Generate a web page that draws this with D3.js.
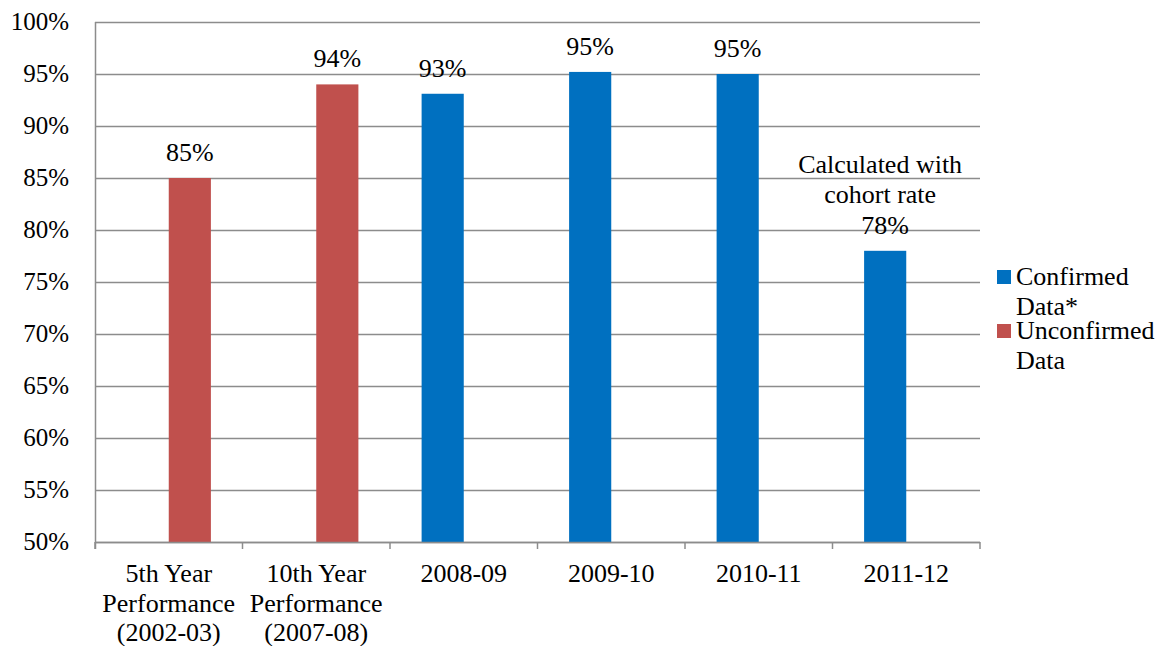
<!DOCTYPE html>
<html lang="en">
<head>
    <meta charset="UTF-8">
    <title>Graduation rate</title>
    <style>
        body { margin: 0; background: #fff; }
    </style>
</head>
<body>
<div id="chart"></div>
<script src="https://d3js.org/d3.v7.min.js"></script>
<script>

    // chart data
    var categories = ["5th Year\nPerformance\n(2002-03)", "10th Year\nPerformance\n(2007-08)",
        "2008-09", "2009-10", "2010-11", "2011-12"];
    var confirmed = [null, null, 0.931, 0.952, 0.950, 0.780];
    var unconfirmed = [0.85, 0.94, null, null, null, null];
    var confirmedLabels = ["", "", "93%", "95%", "95%", "Calculated with\ncohort rate\n78%"];
    var unconfirmedLabels = ["85%", "94%", "", "", "", ""];
    var yTicks = [0.5, 0.55, 0.6, 0.65, 0.7, 0.75, 0.8, 0.85, 0.9, 0.95, 1.0];
    var seriesNames = ["Confirmed\nData*", "Unconfirmed\nData"];
    var seriesKeys = ["confirmed", "unconfirmed"];
    var seriesColors = ["#0070C0", "#C0504D"];

    var width = 1160,
        height = 646;

    var svg = d3.select("#chart").append("svg")
        .attr("width", width)
        .attr("height", height)
        .attr("font-family", "'Liberation Serif', 'Times New Roman', Times, serif")
        .style("font-family", "'Liberation Serif', 'Times New Roman', Times, serif");

    var x = d3.scaleBand()
        .domain(categories)
        .range([95, 980]);

    var x1 = d3.scaleBand()
        .domain(seriesKeys)
        .range([0, x.bandwidth()])
        .paddingOuter(0.75);

    var y = d3.scaleLinear()
        .domain([0.5, 1])
        .range([542, 22]);

    var gridColor = "#8c8c8c";
    var fs = "26px";

    // gridlines
    svg.append("g")
        .selectAll("line")
        .data(yTicks)
        .enter().append("line")
        .attr("x1", x.range()[0])
        .attr("x2", x.range()[1])
        .attr("y1", function (d) { return Math.round(y(d)) + 0.5; })
        .attr("y2", function (d) { return Math.round(y(d)) + 0.5; })
        .attr("stroke", gridColor)
        .attr("stroke-width", 1.5);

    // y labels
    svg.append("g")
        .selectAll("text")
        .data(yTicks)
        .enter().append("text")
        .attr("x", 69)
        .attr("y", function (d) { return y(d); })
        .attr("dy", "0.33em")
        .attr("text-anchor", "end")
        .attr("font-size", "25px")
        .text(d3.format(".0%"));

    // bars
    var rows = categories.map(function (c, i) {
        return {cat: c, i: i, confirmed: confirmed[i], unconfirmed: unconfirmed[i]};
    });

    seriesKeys.forEach(function (key, k) {
        var labs = key === "confirmed" ? confirmedLabels : unconfirmedLabels;
        var g = svg.append("g").attr("class", key);
        var data = rows.filter(function (d) { return d[key] != null; });

        g.selectAll("rect")
            .data(data)
            .enter().append("rect")
            .attr("x", function (d) { return x(d.cat) + x1(key); })
            .attr("width", x1.bandwidth())
            .attr("y", function (d) { return y(d[key]); })
            .attr("height", function (d) { return y(0.5) - y(d[key]); })
            .attr("fill", seriesColors[k]);

        g.selectAll("text")
            .data(data)
            .enter().append("text")
            .attr("text-anchor", "middle")
            .attr("font-size", fs)
            .each(function (d) {
                var lines = labs[d.i].split("\n");
                var cx = x(d.cat) + x1(key) + x1.bandwidth() / 2;
                if (lines.length > 1) cx -= 5;
                var base = y(d[key]) - 17;
                d3.select(this).selectAll("tspan")
                    .data(lines)
                    .enter().append("tspan")
                    .attr("x", function (t, j) { return j === lines.length - 1 ? cx + 5 * (lines.length > 1) : cx; })
                    .attr("y", function (t, j) { return base - (lines.length - 1 - j) * 30.5; })
                    .text(function (t) { return t; });
            });
    });

    // axes
    svg.append("line")
        .attr("x1", 95.5).attr("x2", 95.5)
        .attr("y1", y(1)).attr("y2", y(0.5) + 7)
        .attr("stroke", gridColor).attr("stroke-width", 1.5);

    svg.append("line")
        .attr("x1", x.range()[0]).attr("x2", x.range()[1])
        .attr("y1", 542.5).attr("y2", 542.5)
        .attr("stroke", gridColor).attr("stroke-width", 1.5);

    var tickPos = categories.map(function (c) { return x(c); }).concat([x.range()[1]]);
    svg.append("g")
        .selectAll("line")
        .data(tickPos)
        .enter().append("line")
        .attr("x1", function (d) { return d; })
        .attr("x2", function (d) { return d; })
        .attr("y1", 542)
        .attr("y2", 549)
        .attr("stroke", gridColor)
        .attr("stroke-width", 1.5);

    // category labels
    svg.append("g")
        .selectAll("text")
        .data(categories)
        .enter().append("text")
        .attr("text-anchor", "middle")
        .attr("font-size", fs)
        .each(function (c) {
            var cx = x(c) + x.bandwidth() / 2;
            d3.select(this).selectAll("tspan")
                .data(c.split("\n"))
                .enter().append("tspan")
                .attr("x", cx)
                .attr("y", function (t, j) { return 582 + j * 29.5; })
                .text(function (t) { return t; });
        });

    // legend
    var legend = svg.append("g")
        .selectAll("g")
        .data(seriesNames)
        .enter().append("g")
        .attr("transform", function (d, i) { return "translate(997," + (270 + i * 54) + ")"; });

    legend.append("rect")
        .attr("width", 14)
        .attr("height", 14)
        .attr("fill", function (d, i) { return seriesColors[i]; });

    legend.append("text")
        .attr("font-size", fs)
        .each(function (d) {
            d3.select(this).selectAll("tspan")
                .data(d.split("\n"))
                .enter().append("tspan")
                .attr("x", 19)
                .attr("y", function (t, j) { return 15 + j * 30; })
                .text(function (t) { return t; });
        });

</script>
</body>
</html>
